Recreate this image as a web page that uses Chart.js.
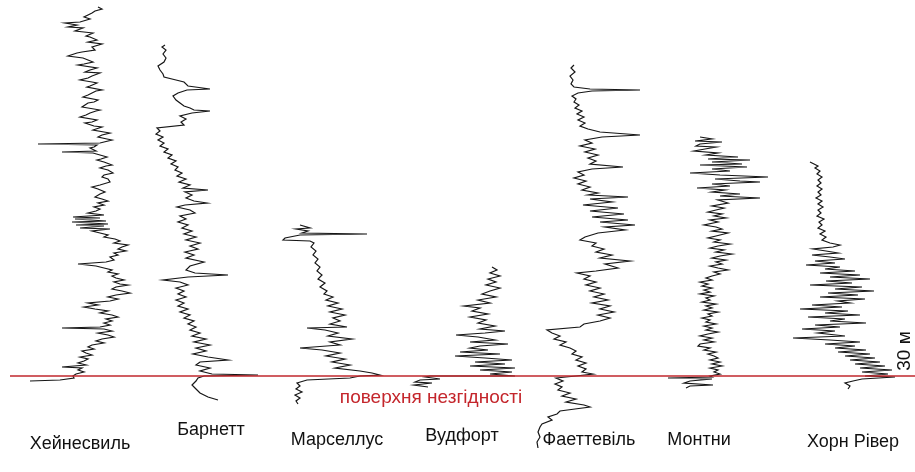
<!DOCTYPE html>
<html>
<head>
<meta charset="utf-8">
<script src="https://cdn.jsdelivr.net/npm/chart.js@4/dist/chart.umd.min.js"></script>
<style>
  html, body { margin: 0; padding: 0; background: #fff; }
  #wrap { width: 915px; height: 472px; position: relative; }
</style>
</head>
<body>
<div id="wrap"><canvas id="c"></canvas></div>
<script>
// Gamma-ray logs of seven shale plays, hung on the basal unconformity.
// Each reading is [gamma (relative units), depth (m, increasing downward)].

const wells = ['Хейнесвиль', 'Барнетт', 'Марселлус', 'Вудфорт', 'Фаеттевіль', 'Монтни', 'Хорн Рівер'];

const unconformityDepth = 376;

const haynesville = [
  [68,7],[72,9],[65,11],[62,13],[58,15],[54,17],[60,19],[50,22],[35,23],[47,25],[38,27],[53,28],[45,31],[63,33],[56,36],[60,37],
  [67,40],[58,42],[72,44],[62,47],[65,50],[52,52],[47,53],[38,56],[53,58],[58,60],[63,62],[54,64],[48,65],[67,68],[60,70],[55,72],
  [70,73],[62,76],[58,78],[50,80],[62,82],[67,83],[60,86],[57,87],[72,90],[66,91],[62,93],[58,95],[53,97],[68,100],[64,102],
  [58,103],[55,105],[52,107],[70,110],[66,111],[60,113],[56,115],[50,117],[67,120],[62,122],[55,123],[64,126],[72,127],[66,129],
  [63,130],[74,132],[80,133],[72,135],[68,137],[77,139],[82,140],[74,142],[70,143],[8,144],[67,145],[64,147],[60,148],[66,151],
  [32,152],[63,153],[70,155],[77,157],[71,159],[67,160],[74,162],[82,165],[76,166],[70,168],[78,170],[83,173],[74,175],[72,177],
  [78,179],[80,182],[70,185],[62,187],[68,189],[75,192],[70,194],[65,197],[72,199],[78,201],[68,203],[74,205],[64,207],[70,209],
  [66,211],[58,213],[74,215],[43,217],[70,218],[45,219],[76,221],[42,222],[78,224],[46,225],[74,226],[50,228],[80,229],[62,231],
  [70,233],[78,235],[74,237],[85,239],[90,241],[84,243],[98,245],[92,247],[88,249],[96,251],[84,253],[88,255],[80,257],[84,260],
  [76,262],[48,264],[66,266],[74,268],[82,270],[78,272],[88,274],[82,276],[86,278],[94,280],[84,282],[90,284],[98,285],[86,287],
  [82,289],[92,291],[100,293],[86,295],[78,297],[88,299],[80,301],[58,303],[68,305],[54,307],[65,309],[78,311],[70,313],[82,315],
  [88,317],[76,319],[82,321],[74,323],[80,325],[70,327],[32,328],[74,329],[82,331],[68,333],[78,335],[84,337],[72,339],[66,341],
  [74,343],[62,345],[58,347],[64,349],[52,351],[56,353],[62,355],[50,357],[58,359],[54,361],[48,363],[56,365],[32,367],[52,368],
  [48,370],[54,372],[46,374],[43,376],[44,378],[30,380],[0,381]
];

const barnett = [
  [15,45],[12,47],[16,50],[13,54],[16,58],[14,62],[8,66],[10,70],[13,74],[14,77],[26,80],[34,82],[38,86],[60,89],[37,90],[28,93],
  [23,96],[26,100],[30,103],[34,106],[40,108],[44,110],[60,111],[42,113],[30,116],[36,119],[31,122],[34,125],[7,128],[10,131],
  [6,134],[13,137],[8,140],[14,143],[10,146],[18,149],[14,152],[22,155],[18,158],[26,161],[21,164],[28,167],[25,170],[32,173],
  [27,176],[36,179],[29,182],[40,185],[33,188],[58,190],[35,192],[42,195],[36,198],[44,201],[57,203],[35,205],[27,207],[40,210],
  [45,213],[30,216],[36,219],[28,222],[38,225],[32,228],[42,231],[34,234],[46,237],[36,240],[50,243],[40,246],[48,249],[35,252],
  [44,255],[36,258],[54,262],[40,266],[36,270],[45,273],[78,275],[38,277],[13,280],[30,282],[38,285],[26,288],[34,291],[28,294],
  [36,297],[26,300],[34,303],[28,306],[38,309],[30,312],[40,315],[34,318],[44,321],[38,324],[46,327],[40,330],[50,333],[42,336],
  [56,339],[44,342],[60,345],[46,348],[56,351],[43,354],[58,357],[78,360],[50,362],[46,365],[60,368],[50,371],[62,374],[108,375],
  [54,376],[48,378],[46,381],[42,385],[46,389],[50,393],[58,397],[68,400]
];

const marcellus = [
  [20,225],[30,228],[16,229],[28,231],[22,233],[87,234],[20,235],[5,238],[3,240],[30,241],[34,243],[31,247],[36,251],[33,255],
  [38,259],[35,263],[40,267],[37,271],[42,275],[38,279],[45,283],[40,287],[47,291],[44,294],[53,297],[46,300],[58,303],[48,306],
  [62,309],[50,312],[65,315],[53,318],[60,321],[50,324],[67,327],[27,328],[45,330],[58,333],[48,336],[72,339],[50,342],[60,345],
  [20,348],[42,350],[60,353],[46,356],[65,359],[52,362],[70,365],[55,368],[80,371],[92,373],[100,375],[80,376],[70,378],[27,380],
  [17,383],[20,386],[16,389],[22,392],[15,395],[20,398],[16,401],[18,404]
];

const woodford = [
  [82,267],[87,270],[80,273],[90,276],[78,279],[86,282],[76,285],[90,288],[80,291],[72,294],[86,297],[68,300],[80,303],[54,306],
  [70,308],[62,311],[78,314],[60,317],[76,320],[68,323],[85,326],[70,329],[95,331],[75,333],[46,335],[68,337],[85,340],[60,342],
  [98,344],[70,346],[60,348],[78,350],[50,352],[90,354],[45,356],[75,358],[102,360],[65,362],[95,364],[60,366],[105,368],[70,370],
  [102,372],[80,374],[105,376],[20,376],[15,377],[30,379],[10,380],[5,382],[22,383],[4,385],[18,387]
];

const fayetteville = [
  [44,65],[41,68],[45,72],[40,76],[43,80],[41,84],[44,87],[60,89],[110,90],[62,91],[48,93],[42,96],[46,99],[44,102],[49,105],
  [45,108],[52,111],[47,114],[54,117],[48,120],[55,123],[50,126],[58,129],[70,132],[110,135],[72,137],[55,140],[62,143],[50,146],
  [65,149],[55,152],[68,155],[58,158],[66,161],[60,164],[93,167],[62,169],[48,172],[54,175],[44,178],[56,181],[48,184],[60,187],
  [52,190],[68,193],[58,195],[98,197],[60,199],[82,202],[53,205],[88,208],[60,211],[94,214],[62,217],[98,220],[70,222],[105,225],
  [75,227],[95,230],[68,233],[55,237],[50,240],[66,243],[62,246],[74,249],[66,252],[82,255],[70,258],[100,261],[75,264],[88,268],
  [66,271],[47,273],[60,276],[54,279],[66,282],[56,285],[70,288],[60,291],[74,294],[64,297],[78,300],[62,303],[80,306],[70,309],
  [84,312],[68,315],[80,318],[70,321],[54,324],[50,327],[17,330],[22,333],[30,336],[24,339],[36,342],[30,345],[40,348],[46,351],
  [42,354],[52,357],[46,360],[56,363],[48,366],[56,369],[52,372],[63,374],[46,376],[26,378],[33,381],[25,384],[32,387],[28,390],
  [40,393],[32,396],[46,399],[36,402],[54,405],[60,407],[45,409],[30,411],[27,414],[18,417],[22,420],[12,424],[10,427],[8,432],
  [10,437],[7,442],[8,448]
];

const montney = [
  [40,137],[52,139],[35,141],[62,142],[40,144],[36,146],[56,147],[45,149],[34,151],[58,153],[46,155],[78,157],[48,159],[90,160],
  [52,162],[82,164],[40,165],[87,167],[52,169],[70,171],[30,173],[60,175],[108,177],[55,179],[80,181],[100,182],[52,184],[70,186],
  [37,188],[65,190],[52,192],[80,194],[60,196],[100,198],[58,200],[68,203],[52,206],[64,208],[56,210],[48,212],[62,214],[54,216],
  [66,218],[50,220],[58,222],[44,225],[56,227],[62,229],[52,231],[68,233],[56,236],[48,238],[60,240],[54,242],[70,244],[58,246],
  [50,248],[64,250],[56,252],[72,254],[60,256],[52,258],[66,260],[56,262],[62,264],[50,266],[58,268],[68,270],[54,272],[60,274],
  [52,276],[46,278],[52,280],[40,282],[48,284],[42,286],[52,288],[44,290],[50,292],[40,294],[54,296],[46,298],[50,300],[42,302],
  [56,304],[46,306],[52,308],[44,310],[58,312],[48,314],[52,316],[42,318],[50,320],[46,322],[56,324],[44,326],[52,328],[46,330],
  [58,332],[48,334],[40,336],[52,338],[44,340],[54,342],[40,344],[38,346],[50,348],[44,350],[56,352],[48,354],[54,356],[58,358],
  [50,360],[60,362],[52,364],[62,366],[50,368],[58,370],[54,372],[60,374],[50,376],[52,377],[8,378],[52,379],[30,381],
  [24,383],[53,385],[30,386],[26,388]
];

const hornRiver = [
  [30,162],[34,164],[38,166],[35,168],[40,171],[37,174],[42,177],[38,180],[41,183],[37,186],[42,189],[38,192],[41,195],[36,198],
  [42,201],[38,204],[43,207],[38,210],[41,213],[37,216],[44,219],[39,222],[42,225],[38,228],[45,231],[40,234],[46,237],[42,240],
  [50,243],[60,245],[53,247],[33,249],[46,251],[58,253],[32,255],[50,257],[65,259],[35,261],[55,263],[26,265],[60,267],[45,269],
  [75,271],[40,273],[80,275],[50,277],[90,279],[46,281],[72,283],[30,285],[82,287],[55,289],[94,291],[48,293],[78,295],[40,297],
  [85,299],[58,301],[70,303],[32,305],[62,307],[20,309],[68,311],[45,313],[80,315],[28,317],[65,319],[50,321],[86,323],[35,325],
  [60,327],[22,329],[55,331],[38,333],[65,336],[13,338],[50,340],[80,342],[45,344],[75,346],[55,348],[86,350],[58,352],[90,354],
  [65,356],[95,358],[70,360],[100,362],[75,364],[105,366],[80,368],[112,370],[82,372],[108,374],[85,376],[115,377],[82,379],
  [73,381],[65,383],[70,386],[68,389]
];

// Left edge of each well's track on the shared horizontal scale.
const trackStart = [30, 150, 280, 410, 530, 660, 780];
// Where each name sits under its track, and the depth of its line.
const labelX = [80, 211, 337, 462, 589, 699, 853];
const labelDepth = [444, 430, 440, 436, 440, 440, 442];

const logs = [haynesville, barnett, marcellus, woodford, fayetteville, montney, hornRiver];

const logDatasets = logs.map((log, i) => ({
  label: wells[i],
  data: log.map(([gr, d]) => ({ x: trackStart[i] + gr, y: d })),
  showLine: true,
  borderColor: '#161616',
  borderWidth: 1.2,
  pointRadius: 0,
  tension: 0,
  fill: false
}));

const unconformity = {
  label: 'поверхня незгідності',
  data: [{ x: 10, y: unconformityDepth }, { x: 915, y: unconformityDepth }],
  showLine: true,
  borderColor: '#c0272d',
  borderWidth: 1.6,
  pointRadius: 0
};

const textPlugin = {
  id: 'wellText',
  afterDatasetsDraw(chart) {
    const { ctx, scales: { x, y } } = chart;
    ctx.save();
    ctx.fillStyle = '#111';
    ctx.font = '18px "Liberation Sans", Arial, sans-serif';
    ctx.textAlign = 'center';
    ctx.textBaseline = 'middle';
    wells.forEach((name, i) => {
      ctx.fillText(name, x.getPixelForValue(labelX[i]), y.getPixelForValue(labelDepth[i]));
    });
    ctx.fillStyle = '#c4262c';
    ctx.font = '19px "Liberation Sans", Arial, sans-serif';
    ctx.fillText('поверхня незгідності', x.getPixelForValue(431), y.getPixelForValue(398));
    ctx.fillStyle = '#111';
    ctx.font = '19px "Liberation Sans", Arial, sans-serif';
    ctx.translate(x.getPixelForValue(905), y.getPixelForValue(351));
    ctx.rotate(-Math.PI / 2);
    ctx.fillText('30 м', 0, 0);
    ctx.restore();
  }
};

new Chart(document.getElementById('c'), {
  type: 'scatter',
  data: { datasets: [unconformity, ...logDatasets] },
  options: {
    responsive: true,
    maintainAspectRatio: false,
    animation: false,
    layout: { padding: 0 },
    plugins: { legend: { display: false }, tooltip: { enabled: false } },
    scales: {
      x: { type: 'linear', min: 0, max: 915, display: false },
      y: { type: 'linear', min: 0, max: 472, reverse: true, display: false }
    }
  },
  plugins: [textPlugin]
});
</script>
</body>
</html>
